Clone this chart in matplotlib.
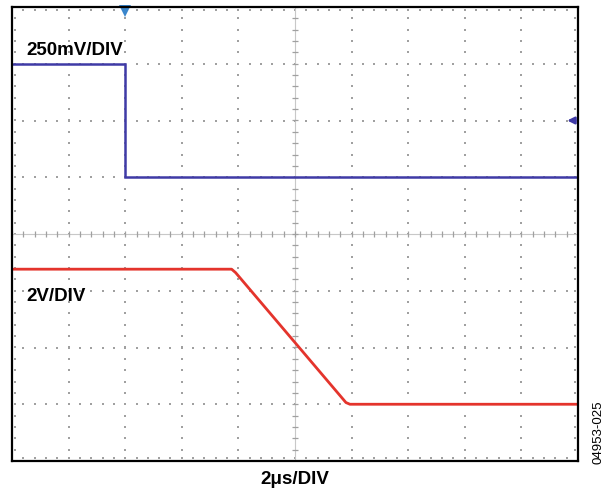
import numpy as np
import matplotlib
matplotlib.use("Agg")
import matplotlib.pyplot as plt

plt.rcParams['font.family'] = ['Liberation Sans', 'DejaVu Sans']

# scope traces, in divisions (x: -5..5, y: -4..4)
ch1_x = [-5.0, -3.0, -3.0, 5.0]
ch1_y = [3.0, 3.0, 1.0, 1.0]
ch2_x = [-5.0, -1.12, -1.05, 0.90, 0.97, 5.0]
ch2_y = [-0.62, -0.62, -0.68, -2.97, -3.0, -3.0]

ch1_label = "250mV/DIV"
ch2_label = "2V/DIV"
time_label = "2\u03bcs/DIV"
fig_id = "04953-025"

blue = '#3f3aa6'
red = '#e4342c'
grid_c = '#a0a0a0'

fig = plt.figure(figsize=(6.15, 4.93), dpi=100)
ax = fig.add_axes([12/615, 1 - 461/493, 566/615, 454/493])
ax.set_xlim(-5, 5)
ax.set_ylim(-4, 4)
ax.set_xticks([])
ax.set_yticks([])
for s in ax.spines.values():
    s.set_linewidth(1.6)
    s.set_color('black')

# dotted graticule
minor = np.arange(-5, 5.01, 0.2)
minor_y = np.arange(-4, 4.01, 0.2)
for gx in range(-4, 5):
    if gx == 0:
        continue
    ax.plot(np.full(len(minor_y), gx), minor_y, ls='none', marker='s',
            ms=1.5, color=grid_c, mew=0)
for gy in range(-3, 4):
    if gy == 0:
        continue
    ax.plot(minor, np.full(len(minor), gy), ls='none', marker='s',
            ms=1.5, color=grid_c, mew=0)
# dots along the frame
for gy in [-4, 4]:
    ax.plot(minor, np.full(len(minor), gy + (0.06 if gy < 0 else -0.06)),
            ls='none', marker='s', ms=1.5, color=grid_c, mew=0)
for gx in [-5, 5]:
    ax.plot(np.full(len(minor_y), gx + (0.06 if gx < 0 else -0.06)), minor_y,
            ls='none', marker='s', ms=1.5, color=grid_c, mew=0)

# centre axes with small ticks
ax.axhline(0, color='#c8c8c8', lw=0.8)
ax.axvline(0, color='#c8c8c8', lw=0.8)
ax.plot(minor, np.zeros(len(minor)), ls='none', marker='|', ms=5,
        color=grid_c, mew=0.9)
ax.plot(np.zeros(len(minor_y)), minor_y, ls='none', marker='_', ms=5,
        color=grid_c, mew=0.9)

# traces
ax.plot(ch1_x, ch1_y, color=blue, lw=1.8, solid_joinstyle='miter')
ax.plot(ch2_x, ch2_y, color=red, lw=2.0)

# trigger markers
ax.plot([-3.0], [3.93], marker='v', ms=8, color='#3a86cc', mew=0,
        clip_on=False)
ax.annotate('', xy=(4.76, 2.0), xytext=(5.0, 2.0),
            arrowprops=dict(arrowstyle='-|>', color=blue, lw=1.8,
                            mutation_scale=10))

ax.text(-4.74, 3.24, ch1_label, fontsize=13.5, fontweight='bold',
        va='center', ha='left')
ax.text(-4.74, -1.1, ch2_label, fontsize=13.5, fontweight='bold',
        va='center', ha='left')

fig.text(295/615, 1 - 480/493, time_label, fontsize=13.5, fontweight='bold',
         ha='center', va='center')
fig.text(599/615, 1 - 432/493, fig_id, fontsize=9.5, rotation=90,
         ha='center', va='center')

fig.savefig('out.png', dpi=100)
